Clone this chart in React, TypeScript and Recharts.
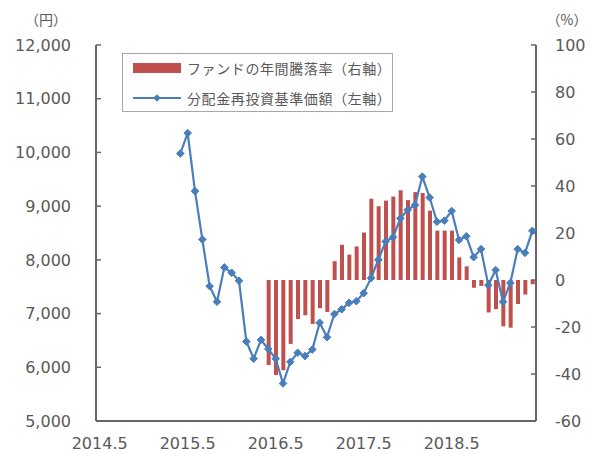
import React from 'react';
import { ComposedChart, Bar, Line, XAxis, YAxis, Legend } from 'recharts';

const months: string[] = [
  '2014.5', '2014.6', '2014.7', '2014.8', '2014.9', '2014.10', '2014.11', '2014.12',
  '2015.1', '2015.2', '2015.3', '2015.4', '2015.5', '2015.6', '2015.7', '2015.8', '2015.9', '2015.10', '2015.11', '2015.12',
  '2016.1', '2016.2', '2016.3', '2016.4', '2016.5', '2016.6', '2016.7', '2016.8', '2016.9', '2016.10', '2016.11', '2016.12',
  '2017.1', '2017.2', '2017.3', '2017.4', '2017.5', '2017.6', '2017.7', '2017.8', '2017.9', '2017.10', '2017.11', '2017.12',
  '2018.1', '2018.2', '2018.3', '2018.4', '2018.5', '2018.6', '2018.7', '2018.8', '2018.9', '2018.10', '2018.11', '2018.12',
  '2019.1', '2019.2', '2019.3', '2019.4',
];

// 分配金再投資基準価額（左軸, 円）
const navValues: (number | null)[] = [
  null, null, null, null, null, null, null, null, null, null, null,
  9980, 10360, 9280, 8380, 7510, 7220, 7860, 7760, 7610, 6480,
  6160, 6510, 6340, 6160, 5700, 6100, 6270, 6210, 6330, 6830,
  6560, 6990, 7080, 7200, 7230, 7380, 7660, 8000, 8340, 8420,
  8770, 8930, 9020, 9550, 9160, 8710, 8730, 8910, 8370, 8440,
  8050, 8200, 7530, 7810, 7220, 7570, 8200, 8130, 8540,
];

// ファンドの年間騰落率（右軸, %）
const returnValues: (number | null)[] = [
  null, null, null, null, null, null, null, null, null, null,
  null, null, null, null, null, null, null, null, null, null,
  null, null, null,
  -36.2, -40.4, -38.4, -27.2, -16.6, -15, -18.7, -12, -13.6,
  8, 15, 10.8, 14.3, 20.2, 34.6, 31.4, 33.8, 35.5, 38.2, 34, 37.4, 37,
  29.5, 21, 21, 21, 9.6, 5.8, -3.3, -2.5, -13.8, -12.4, -19.7, -20.3,
  -10.2, -6.2, -1.8,
];

const leftTicks = [5000, 6000, 7000, 8000, 9000, 10000, 11000, 12000];
const rightTicks = [-60, -40, -20, 0, 20, 40, 60, 80, 100];

const barName = 'ファンドの年間騰落率（右軸）';
const lineName = '分配金再投資基準価額（左軸）';

const data = months.map((m, i) => ({ m, nav: navValues[i], ret: returnValues[i] }));

const NUM_FONT = '"DejaVu Sans", sans-serif';
const CJK_FONT = '"Noto Sans CJK JP", sans-serif';
const TEXT = '#595959';
const FRAME = '#666666';
const RED = '#C0504D';
const BLUE = '#4A7EBB';

const Diamond = (props: any) => {
  const { cx, cy, index } = props;
  if (cx == null || cy == null || props.value == null) return <g key={index} />;
  const r = 3.8;
  return (
    <polygon
      key={index}
      points={`${cx},${cy - r} ${cx + r},${cy} ${cx},${cy + r} ${cx - r},${cy}`}
      fill={BLUE}
      stroke={BLUE}
      strokeWidth={1}
    />
  );
};

const renderLegend = () => (
  <div
    style={{
      position: 'relative',
      width: 271,
      height: 59,
      boxSizing: 'border-box',
      border: '1.5px solid #a6a6a6',
      background: '#fff',
      fontFamily: CJK_FONT,
      fontSize: 14,
      letterSpacing: 0.6,
      color: TEXT,
    }}
  >
    <div style={{ position: 'absolute', left: 10, top: 9, width: 48, height: 10, background: RED }} />
    <div style={{ position: 'absolute', left: 64, top: 4, lineHeight: '20px', whiteSpace: 'nowrap' }}>{barName}</div>
    <svg style={{ position: 'absolute', left: 10, top: 38 }} width={48} height={12}>
      <line x1={0} y1={6} x2={48} y2={6} stroke={BLUE} strokeWidth={2.2} />
      <polygon points="24,2.2 27.8,6 24,9.8 20.2,6" fill={BLUE} />
    </svg>
    <div style={{ position: 'absolute', left: 64, top: 34, lineHeight: '20px', whiteSpace: 'nowrap' }}>{lineName}</div>
  </div>
);

export default function App() {
  return (
    <div style={{ position: 'absolute', left: 0, top: 0, width: 590, height: 453, background: '#fff' }}>
      <ComposedChart
        width={590}
        height={453}
        data={data}
        margin={{ top: 45, right: 0, bottom: 0, left: 0 }}
      >
        <XAxis
          dataKey="m"
          interval={11}
          tickLine={false}
          tickSize={0}
          tickMargin={17}
          height={32}
          axisLine={{ stroke: FRAME, strokeWidth: 2 }}
          tick={{ fontFamily: NUM_FONT, fontSize: 16, fill: TEXT }}
        />
        <XAxis
          xAxisId="top"
          dataKey="m"
          orientation="top"
          height={0}
          tick={false}
          tickLine={false}
          axisLine={{ stroke: FRAME, strokeWidth: 2 }}
        />
        <YAxis
          yAxisId="left"
          orientation="left"
          width={96}
          domain={[5000, 12000]}
          ticks={leftTicks}
          interval={0}
          tickSize={-5}
          tickMargin={30}
          tickFormatter={(v: number) => v.toLocaleString('en-US')}
          axisLine={{ stroke: FRAME, strokeWidth: 2 }}
          tickLine={{ stroke: FRAME, strokeWidth: 1.5 }}
          tick={{ fontFamily: NUM_FONT, fontSize: 16, fill: TEXT }}
          label={{
            content: () => (
              <text x={46} y={25} textAnchor="middle" fontFamily={CJK_FONT} fontSize={14} fill={TEXT}>
                （円）
              </text>
            ),
          }}
        />
        <YAxis
          yAxisId="right"
          orientation="right"
          width={54}
          domain={[-60, 100]}
          ticks={rightTicks}
          interval={0}
          tickSize={-5}
          tickMargin={24}
          axisLine={{ stroke: FRAME, strokeWidth: 2 }}
          tickLine={{ stroke: FRAME, strokeWidth: 1.5 }}
          tick={{ fontFamily: NUM_FONT, fontSize: 16, fill: TEXT }}
          label={{
            content: () => (
              <text x={567} y={25} textAnchor="middle" fontFamily={CJK_FONT} fontSize={14} fill={TEXT}>
                （%）
              </text>
            ),
          }}
        />
        <Legend
          layout="horizontal"
          verticalAlign="middle"
          align="center"
          content={renderLegend}
          wrapperStyle={{ position: 'absolute', left: 122, top: 53, width: 271, height: 59 }}
        />
        <Bar
          yAxisId="right"
          dataKey="ret"
          name={barName}
          fill={RED}
          barSize={4}
          isAnimationActive={false}
        />
        <Line
          yAxisId="left"
          dataKey="nav"
          name={lineName}
          stroke={BLUE}
          strokeWidth={2.2}
          dot={<Diamond />}
          activeDot={false}
          connectNulls={false}
          isAnimationActive={false}
        />
      </ComposedChart>
    </div>
  );
}
